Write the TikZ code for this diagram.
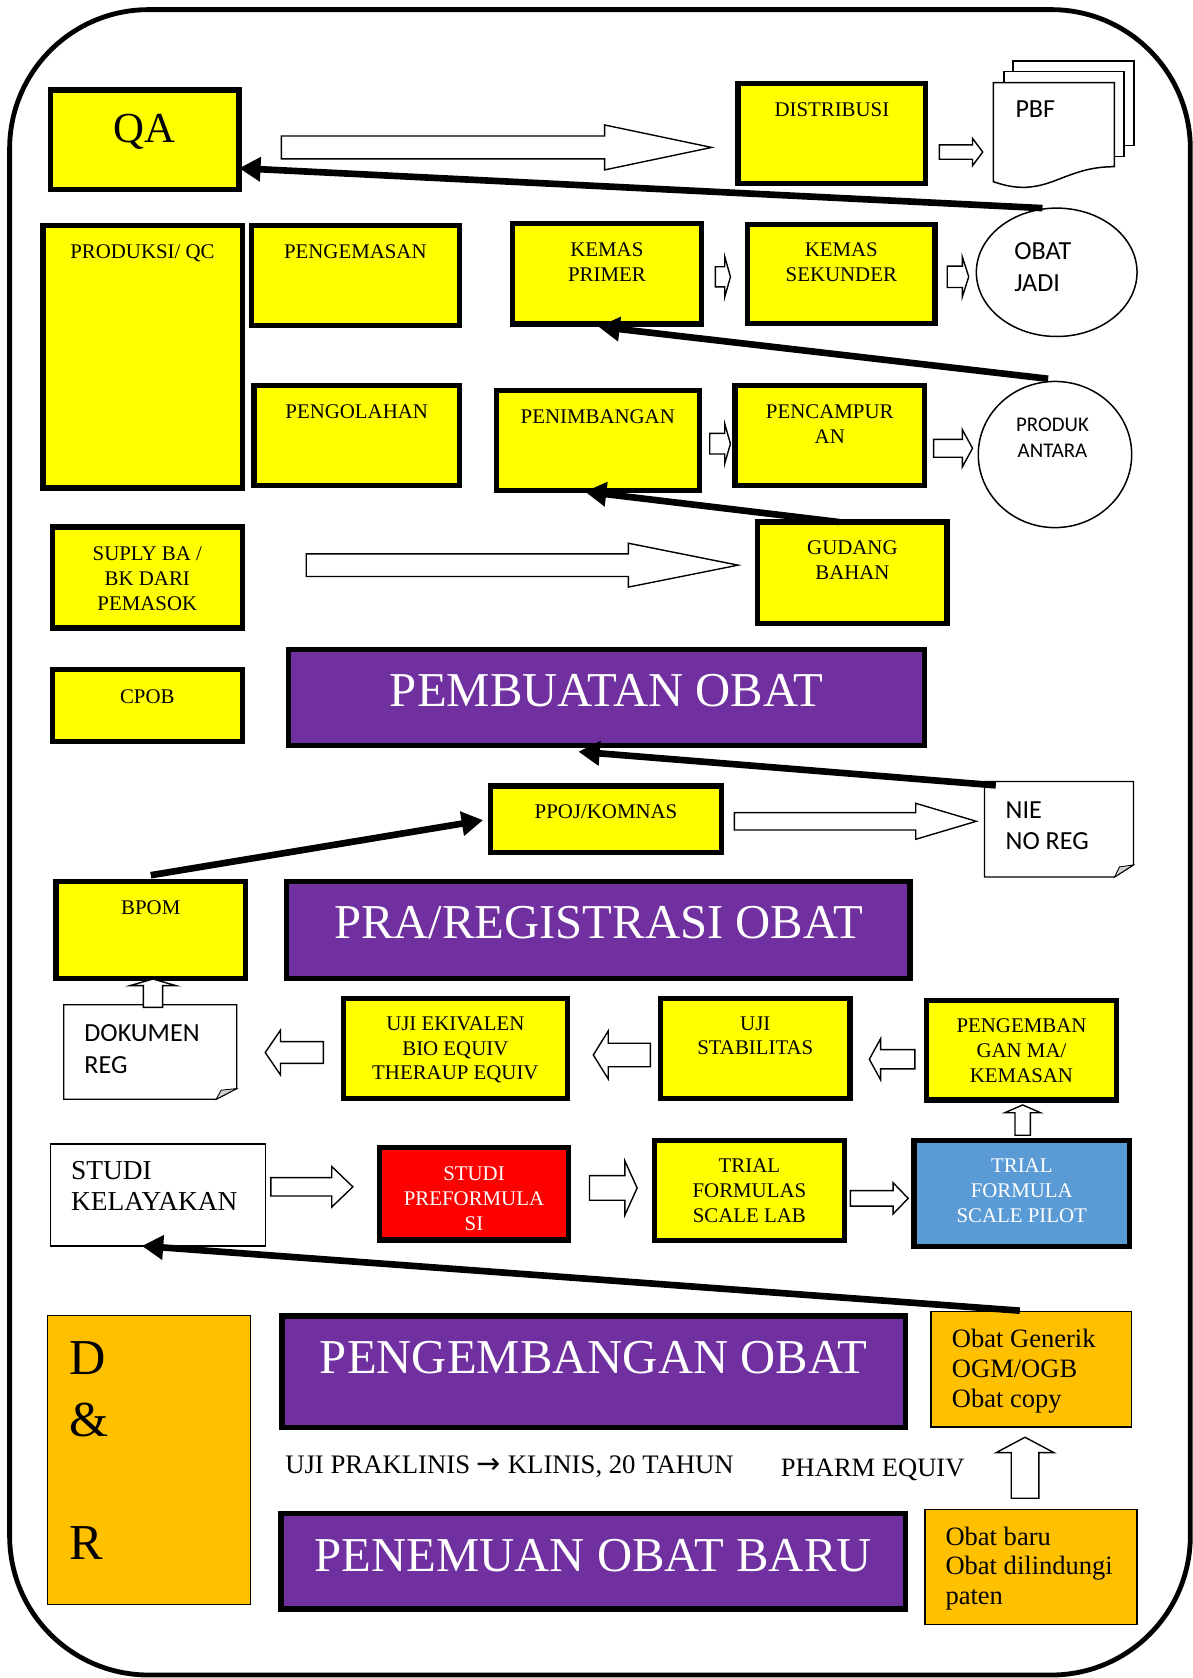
\documentclass[tikz,border=0pt]{standalone}
\usepackage{fontspec}
\setmainfont{Liberation Serif}
\newfontfamily\sanslbl{Carlito}
\newfontfamily\arrowfont{DejaVu Sans}
\usetikzlibrary{calc,arrows.meta,shapes.geometric}

\definecolor{boxyellow}{HTML}{FFFF00}
\definecolor{titlepurple}{HTML}{7030A0}
\definecolor{noteorange}{HTML}{FFC000}
\definecolor{pilotblue}{HTML}{5B9BD5}
\definecolor{preformred}{HTML}{FF0000}

\newcommand\lblfont{\fontsize{19.5}{23.3}\selectfont}
\newcommand\ttlfont{\fontsize{45.5}{52}\selectfont}
\newcommand\docfont{\sanslbl\fontsize{24.4}{29.6}\selectfont}
\newcommand\cirfont{\sanslbl\fontsize{19.5}{24}\selectfont}
\newcommand\notefont{\fontsize{24.8}{28.3}\selectfont}

% box from outer corners (x1,y1)-(x2,y2); #7 = half the border width
\newcommand\BX[7]{\node[#1, outer sep=0pt, inner sep=0pt, anchor=north west,
  minimum width={#5-#3-2*#7}, minimum height={#6-#4-2*#7}] (#2) at ({#3+#7},{#4+#7}) {};}

% outlined block arrow: tail, tip, shaft half width, head half width, head length
\newcommand\barrow[5]{%
  \coordinate (ba-h) at ($(#2)!#5pt!(#1)$);
  \draw[blockarr] ($(#1)!#3pt!90:(#2)$) -- ($(ba-h)!#3pt!-90:(#1)$) -- ($(ba-h)!#4pt!-90:(#1)$)
    -- (#2) -- ($(ba-h)!#4pt!90:(#1)$) -- ($(ba-h)!#3pt!90:(#1)$) -- ($(#1)!#3pt!-90:(#2)$) -- cycle;}

\tikzset{
  ybox/.style={draw=black, line width=5pt, fill=boxyellow},
  pbox/.style={draw=black, line width=5pt, fill=titlepurple},
  rbox/.style={draw=black, line width=5pt, fill=preformred},
  bbox/.style={draw=black, line width=5pt, fill=pilotblue},
  obox/.style={draw=black, line width=1.3pt, fill=noteorange},
  wbox/.style={draw=black, line width=1.3pt, fill=white},
  docnode/.style={draw=none},
  docline/.style={draw=black, line width=1.2pt, fill=white, line join=miter},
  foldtri/.style={draw=black, line width=0.8pt, fill=gray!35},
  sheet/.style={draw=black, line width=1.4pt, fill=white},
  txt/.style={inner sep=0pt, align=center},
  flow/.style={line width=6.2pt, -{Triangle[length=20pt,width=22pt]}},
  blockarr/.style={draw=black, fill=white, line width=1.3pt, line join=miter},
}

\begin{document}
\begin{tikzpicture}[x=1pt,y=-1pt]
\useasboundingbox (0,0) rectangle (1115,1568.3);

% frame
\draw[line width=4.5pt, rounded corners=130pt] (9,9) rectangle (1112.5,1565.5);

% ---- manufacturing ----
\BX{ybox}{qa}{44.7}{81.6}{226}{179.7}{2.5}
\BX{ybox}{dist}{687.3}{75.7}{867.6}{173.8}{2.5}
\BX{ybox}{prod}{37.6}{208.1}{228.9}{458.6}{2.5}
\BX{ybox}{pkg}{232.5}{208}{431.7}{306.9}{2.5}
\BX{ybox}{kp}{476.4}{206.2}{658}{305.3}{2.5}
\BX{ybox}{ks}{696.2}{207.2}{876.4}{304.7}{2.5}
\BX{ybox}{olah}{235}{357.6}{431.7}{456.4}{2.5}
\BX{ybox}{pn}{461.4}{362.3}{656}{461}{2.5}
\BX{ybox}{pc}{684.5}{357.6}{866.5}{456.4}{2.5}
\BX{ybox}{gb}{705.7}{485.4}{887.7}{585}{2.5}
\BX{ybox}{sup}{46.5}{490}{228.9}{589.4}{2.5}
\BX{ybox}{cpob}{46.5}{623}{228.9}{695.6}{2.5}
\BX{pbox}{pemb}{267.2}{604.4}{866.4}{699}{2.5}

% PBF: stacked sheets
\draw[sheet] (946.8,57) rectangle (1059.9,136.2);
\draw[sheet] (938.3,67) rectangle (1050.3,146.4);
\node[docnode, outer sep=0pt, inner sep=0pt, anchor=north west, minimum width=113.1, minimum height=92.5] (pbf) at (928.4,77.3) {};
\draw[sheet] (pbf.north west) -- (pbf.north east) -- ([yshift=14pt]pbf.south east)
  .. controls ([xshift=-40pt,yshift=14pt]pbf.south east) and ([xshift=58pt,yshift=-5pt]pbf.south west) .. ([xshift=28.3pt,yshift=-5.3pt]pbf.south west)
  .. controls ([xshift=16pt,yshift=-5.4pt]pbf.south west) and ([xshift=6pt,yshift=-2pt]pbf.south west) .. (pbf.south west) -- cycle;

\node[ellipse, draw=black, line width=1.4pt, fill=white, outer sep=0pt, inner sep=0pt,
  minimum width=150.2, minimum height=120] (oj) at (987.6,254.5) {};
\node[ellipse, draw=black, line width=1.4pt, fill=white, outer sep=0pt, inner sep=0pt,
  minimum width=143.4, minimum height=136.6] (pa) at (986,424.8) {};

% ---- registration ----
\BX{ybox}{ppoj}{456}{732}{676.7}{799}{2.5}
\BX{ybox}{bpom}{50}{821.5}{231.8}{916.9}{2.5}
\BX{pbox}{prareg}{265.4}{821.5}{853.1}{916.8}{2.5}
\BX{docnode}{nie}{919.6}{729.9}{1059.9}{820.3}{0.6}
\draw[docline] (nie.north west) -- (nie.north east) -- ([yshift=11.3pt]nie.south east)
  -- ([xshift=-17.7pt]nie.south east) -- (nie.south west) -- cycle;
\draw[foldtri] ([xshift=-17.7pt]nie.south east) -- ([xshift=-13pt,yshift=9.5pt]nie.south east)
  -- ([yshift=11.3pt]nie.south east) -- cycle;
\BX{docnode}{dok}{59}{938.4}{221.8}{1028}{0.6}
\draw[docline] (dok.north west) -- (dok.north east) -- ([yshift=10pt]dok.south east)
  -- ([xshift=-19.2pt]dok.south east) -- (dok.south west) -- cycle;
\draw[foldtri] ([xshift=-19.2pt]dok.south east) -- ([xshift=-14.5pt,yshift=8.5pt]dok.south east)
  -- ([yshift=10pt]dok.south east) -- cycle;

% ---- development ----
\BX{ybox}{ujiek}{318.3}{930.9}{533}{1029}{2.5}
\BX{ybox}{ujist}{614.9}{930.9}{796.9}{1029}{2.5}
\BX{ybox}{pma}{863.7}{932.4}{1045.7}{1030.6}{2.5}
\BX{wbox}{sk}{46.5}{1068.5}{248.6}{1165.1}{0.65}
\BX{rbox}{spf}{352.3}{1070}{533.7}{1161.4}{2.5}
\BX{ybox}{tlab}{609.2}{1063.2}{791.6}{1162}{2.5}
\BX{bbox}{tpil}{851.7}{1063.2}{1058.4}{1167.6}{2.5}
\BX{obox}{dr}{44}{1229}{235}{1500}{0.65}
\BX{pbox}{pengob}{261.1}{1227.5}{848.8}{1336.5}{2.5}
\BX{pbox}{penob}{260}{1411.9}{848.8}{1506.3}{2.5}
\BX{obox}{og}{869.4}{1225.3}{1058.2}{1334.3}{0.65}
\BX{obox}{ob}{863.7}{1410}{1063.4}{1519}{0.65}

% ---- block arrows ----
\barrow{263,137.8}{665.1,137.8}{10.7}{21}{100}
\barrow{878,142.1}{918.5,142.1}{6.7}{12.8}{9.6}
\barrow{668.6,258.7}{682.7,258.7}{9.4}{18.7}{5.3}
\barrow{885.3,258.7}{905.4,258.7}{10}{18.7}{6}
\barrow{663.3,414.7}{682.7,414.7}{9.6}{18.4}{5.3}
\barrow{872.6,419}{908.9,419}{8.4}{17.5}{9.5}
\barrow{286.2,528.2}{689.8,528.2}{10.6}{20.5}{102.5}
\barrow{686.3,767.6}{912.5,767.6}{8.1}{16.8}{56.6}
\barrow{143,941.5}{143,915}{9}{21.5}{6.2}
\barrow{302.2,983.7}{247.9,983.7}{10.2}{21}{14.3}
\barrow{607.8,986}{554.5,986}{11}{22.5}{14}
\barrow{855,990}{812.5,990}{9}{19.2}{10.5}
\barrow{955.8,1061}{955.8,1032.7}{7.2}{16.8}{7.3}
\barrow{253.2,1109.2}{329.8,1109.2}{8.6}{18.9}{19.7}
\barrow{551,1110.3}{595.5,1110.3}{11.5}{25.3}{11.5}
\barrow{794.8,1120}{848.8,1120}{7.2}{14.6}{14.1}
\barrow{958,1400.3}{958,1343.3}{12.9}{26.9}{14.3}

% ---- texts ----
\node[txt, anchor=base, font=\fontsize{40}{46}\selectfont] (qa-t) at (135.4,133.3) {QA};
\node[txt, anchor=base, font=\lblfont] (dist-t) at (777.5,109) {DISTRIBUSI};
\node[txt, anchor=base, font=\lblfont] (prod-t) at (133.2,241.4) {PRODUKSI/ QC};
\node[txt, anchor=base, font=\lblfont] (pkg-t) at (332.1,241.4) {PENGEMASAN};
\node[txt, anchor=north, font=\lblfont] (kp-t) at (567.2,226.4) {KEMAS\\PRIMER};
\node[txt, anchor=north, font=\lblfont] (ks-t) at (786.3,226.4) {KEMAS\\SEKUNDER};
\node[txt, anchor=base, font=\lblfont] (olah-t) at (333.4,391) {PENGOLAHAN};
\node[txt, anchor=base, font=\lblfont] (pn-t) at (558.7,395.6) {PENIMBANGAN};
\node[txt, anchor=north, font=\lblfont] (pc-t) at (775.5,378.1) {PENCAMPUR\\AN};
\node[txt, anchor=north, font=\lblfont] (gb-t) at (796.7,504.9) {GUDANG\\BAHAN};
\node[txt, anchor=north, font=\lblfont] (sup-t) at (137.7,510.5) {SUPLY BA /\\BK DARI\\PEMASOK};
\node[txt, anchor=base, font=\lblfont] (cpob-t) at (137.7,657.3) {CPOB};
\node[txt, anchor=base, font=\ttlfont, text=white] (pemb-t) at (566.8,660.5) {PEMBUATAN OBAT};

\node[txt, anchor=north west, align=left, font=\docfont] (pbf-t) at (948.9,94.3) {PBF};
\node[txt, anchor=north west, align=left, font=\docfont] (oj-t) at (947.8,226.9) {OBAT\\JADI};
\node[txt, anchor=north, font=\cirfont] (pa-t) at (983.7,390.5) {PRODUK\\ANTARA};

\node[txt, anchor=base, font=\lblfont] (ppoj-t) at (566.4,765.4) {PPOJ/KOMNAS};
\node[txt, anchor=north west, align=left, font=\docfont] (nie-t) at (939.7,748.8) {NIE\\NO REG};
\node[txt, anchor=base, font=\lblfont] (bpom-t) at (140.9,854.5) {BPOM};
\node[txt, anchor=base, font=\ttlfont, text=white] (prareg-t) at (559.3,877) {PRA/REGISTRASI OBAT};
\node[txt, anchor=north west, align=left, font=\docfont] (dok-t) at (78.7,957.5) {DOKUMEN\\REG};

\node[txt, anchor=north, font=\lblfont] (ujiek-t) at (425.6,949.7) {UJI EKIVALEN\\BIO EQUIV\\THERAUP EQUIV};
\node[txt, anchor=north, font=\lblfont] (ujist-t) at (705.9,949.7) {UJI\\STABILITAS};
\node[txt, anchor=north, font=\lblfont] (pma-t) at (954.7,952.2) {PENGEMBAN\\GAN MA/\\KEMASAN};
\node[txt, anchor=north west, align=left, font=\fontsize{25.6}{29}\selectfont] (sk-t) at (66.2,1085) {STUDI\\KELAYAKAN};
\node[txt, anchor=north, font=\lblfont, text=white] (spf-t) at (443,1089.9) {STUDI\\PREFORMULA\\SI};
\node[txt, anchor=north, font=\lblfont] (tlab-t) at (700.4,1082.7) {TRIAL\\FORMULAS\\SCALE LAB};
\node[txt, anchor=north, font=\lblfont, text=white] (tpil-t) at (955,1082.7) {TRIAL\\FORMULA\\SCALE PILOT};

\node[txt, anchor=north west, align=left, font=\fontsize{47}{57.5}\selectfont] (dr-t) at (64.4,1253.9) {D\\\&\\[57.5pt]R};
\node[txt, anchor=base, font=\ttlfont, text=white] (pengob-t) at (555,1283.5) {PENGEMBANGAN OBAT};
\node[txt, anchor=base west, font=\fontsize{25}{28}\selectfont] (uji-t) at (266.4,1377.6) {UJI PRAKLINIS {\arrowfont\fontsize{27}{28}\selectfont →} KLINIS, 20 TAHUN};
\node[txt, anchor=base west, font=\fontsize{24.8}{28}\selectfont] (pharm-t) at (729.7,1379.5) {PHARM EQUIV};
\node[txt, anchor=base, font=\ttlfont, text=white] (penob-t) at (554.4,1468.9) {PENEMUAN OBAT BARU};
\node[txt, anchor=north west, align=left, font=\notefont] (og-t) at (889.5,1241.7) {Obat Generik\\OGM/OGB\\Obat copy};
\node[txt, anchor=north west, align=left, font=\fontsize{24.8}{27.5}\selectfont] (ob-t) at (883.5,1427.1) {Obat baru\\Obat dilindungi\\paten};

% ---- flow arrows ----
\draw[flow] ([xshift=-13.3pt]oj.north) -- ([yshift=20pt]qa.south east);
\draw[flow] ([xshift=-6.4pt,yshift=2.5pt]pa.north) -- ([xshift=-8pt,yshift=-2.5pt]kp.south);
\draw[flow] ([xshift=-12.5pt]gb.north) -- ([xshift=-12pt,yshift=-1pt]pn.south);
\draw[flow] ([xshift=10.5pt,yshift=-3.5pt]nie.north west) -- ([xshift=-26.3pt,yshift=-6pt]pemb.south);
\draw[flow] ([yshift=6pt]bpom.north) -- ([xshift=-7pt,yshift=-1pt]ppoj.west);
\draw[flow] ([xshift=-10.7pt,yshift=1pt]og.north) -- ([xshift=-15pt]sk.south);
\end{tikzpicture}
\end{document}
